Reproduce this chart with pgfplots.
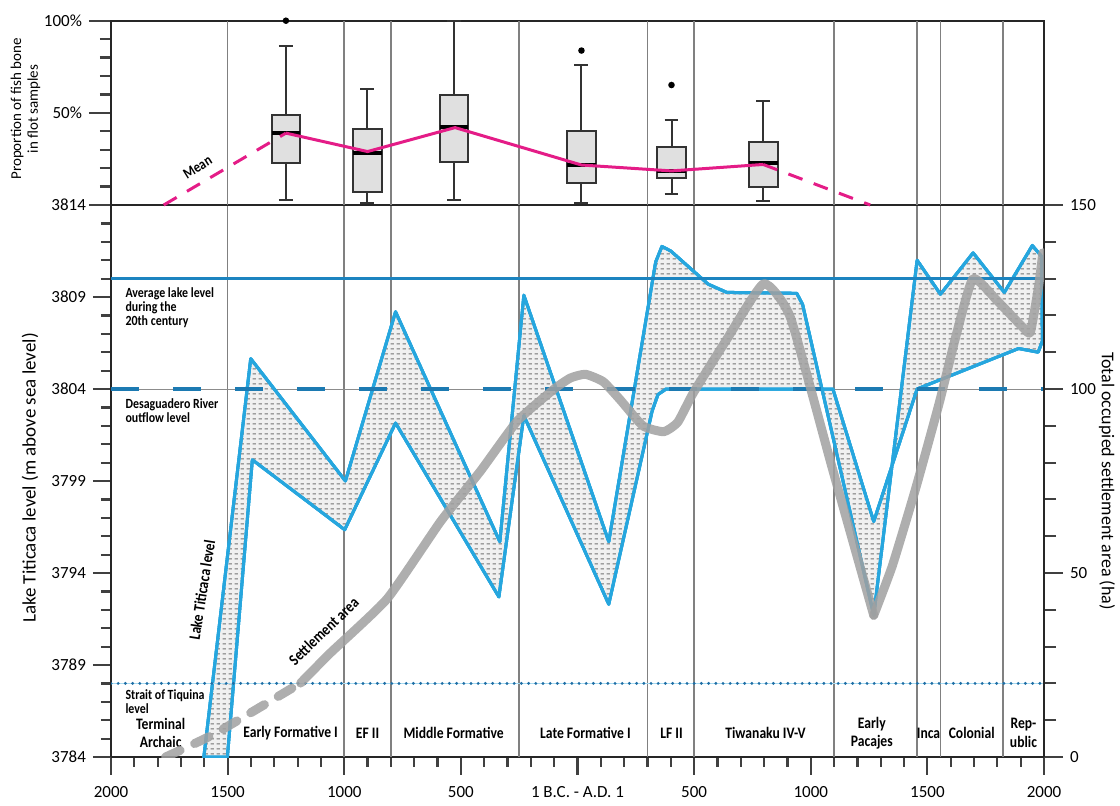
\documentclass[border=0pt]{standalone}
\usepackage{pgfplots}
\pgfplotsset{compat=1.18}
\usepgfplotslibrary{statistics}
\usetikzlibrary{patterns}
\usepackage{fontspec}
\setmainfont{Carlito}
\newfontfamily\cond{Carlito}[FakeStretch=0.85]
\definecolor{bandblue}{RGB}{38,166,222}
\definecolor{avgblue}{RGB}{28,132,192}
\definecolor{dashblue}{RGB}{28,122,178}
\definecolor{dotblue}{RGB}{30,110,165}
\definecolor{meanpink}{RGB}{228,28,135}
\definecolor{settle}{RGB}{160,160,160}
\pgfdeclarepatternformonly{hdash}{\pgfqpoint{0pt}{0pt}}{\pgfqpoint{3pt}{2.5pt}}{\pgfqpoint{3pt}{2.5pt}}{%
  \pgfsetlinewidth{0.6pt}%
  \pgfpathmoveto{\pgfqpoint{0.4pt}{1.25pt}}%
  \pgfpathlineto{\pgfqpoint{2.3pt}{1.25pt}}%
  \pgfusepath{stroke}%
}
\newcommand{\tickfont}{\fontsize{8.5}{9}\selectfont}
\newcommand{\perfont}{\cond\bfseries\fontsize{8}{9.3}\selectfont}
\newcommand{\annfont}{\cond\bfseries\fontsize{7}{6.9}\selectfont}

\pgfplotsset{
  periodgrid/.style={
    extra x ticks={-1500,-1000,-800,-250,300,500,1100,1455,1557,1825},
    extra x tick labels={},
    extra x tick style={grid=major, major grid style={black!50, line width=0.8pt}, tick style={draw=none}},
  },
  mybox/.style={draw=black!80, fill=black!12, line width=1pt, mark=*, mark size=1.1pt,
    mark options={fill=black, draw=black},
    boxplot/every median/.style={line width=2pt, draw=black}},
  settleline/.style={settle, opacity=0.85, line width=4.5pt, line cap=round, line join=round, smooth, tension=0.3},
}

\begin{document}
\begin{tikzpicture}
\path[use as bounding box] (0,0) rectangle (560pt,402.5pt);

% ---------------- lower panel: lake level ----------------
\begin{axis}[
  at={(55.5pt,24pt)}, anchor=south west, scale only axis,
  width=466.5pt, height=276pt,
  xmin=-2000, xmax=2000, ymin=3784, ymax=3814,
  axis x line*=bottom, axis y line*=left,
  axis line style={line width=1.2pt, black!85, -},
  tick align=outside,
  xtick={-2000,-1500,-1000,-500,0,500,1000,1500,2000},
  xticklabels={2000,1500,1000,500,{1 B.C. - A.D. 1},500,1000,1500,2000},
  minor x tick num=4,
  ytick={3784,3789,3794,3799,3804,3809,3814},
  yticklabels={3784,3789,3794,3799,3804,3809,3814},
  minor y tick num=4,
  major tick length=9pt, minor tick length=5pt,
  tick style={black!75, line width=1.1pt},
  ticklabel style={font=\tickfont},
  xticklabel style={yshift=-2pt},
  periodgrid,
]
\addplot[black!45, line width=0.5pt] coordinates {(-2000,3804) (2000,3804)};
\addplot[draw=bandblue, line width=1.5pt, line join=round,
  preaction={fill=black!6}, preaction={pattern=hdash, pattern color=black!55}]
  coordinates {
  (-1602,3784) (-1401,3805.65) (-995,3799.0) (-780,3808.2) (-333,3795.7) (-230,3809.1)
  (134,3795.7) (335,3810.9) (362,3811.75) (400,3811.5) (480,3810.6) (560,3809.7)
  (640,3809.25) (940,3809.2) (965,3808.6) (1270,3791.7) (1456,3811.0) (1556,3809.15)
  (1696,3811.4) (1830,3809.25) (1950,3811.8) (1990,3811.2) (1993,3806.6) (1975,3806.0)
  (1891,3806.2) (1456,3804.0) (1270,3796.8) (1095,3804.0) (380,3804.0) (345,3803.7)
  (320,3802.8) (134,3792.3) (-230,3802.55) (-337,3792.7) (-780,3802.15) (-998,3796.35)
  (-1394,3800.15) (-1501,3784)
  } --cycle;
\addplot[avgblue, line width=1.2pt] coordinates {(-2000,3810) (2000,3810)};
\addplot[dashblue, line width=1.8pt, dash pattern=on 14pt off 17pt] coordinates {(-2000,3804) (2000,3804)};
\addplot[bandblue!40, line width=0.6pt] coordinates {(-2000,3788) (2000,3788)};
\addplot[dotblue, line width=1.6pt, line cap=round, dash pattern=on 0pt off 3.6pt] coordinates {(-2000,3788) (2000,3788)};

\node[font=\annfont, anchor=north west, align=left] at (axis cs:-1968,3809.87) {Average lake level\\during the\\20th century};
\node[font=\annfont, anchor=north west, align=left] at (axis cs:-1968,3803.87) {Desaguadero River\\outflow level};
\node[font=\annfont, anchor=north west, align=left] at (axis cs:-1968,3788.03) {Strait of Tiquina\\level};
\node[font=\perfont, align=center] at (axis cs:-1787,3785.3) {Terminal\\Archaic};
\node[font=\perfont] at (axis cs:-1230,3785.3) {Early Formative I};
\node[font=\perfont] at (axis cs:-900,3785.3) {EF II};
\node[font=\perfont] at (axis cs:-531,3785.3) {Middle Formative};
\node[font=\perfont] at (axis cs:34,3785.3) {Late Formative I};
\node[font=\perfont] at (axis cs:403,3785.3) {LF II};
\node[font=\perfont] at (axis cs:806,3785.3) {Tiwanaku IV-V};
\node[font=\perfont, align=center] at (axis cs:1262,3785.3) {Early\\Pacajes};
\node[font=\perfont] at (axis cs:1505,3785.3) {Inca};
\node[font=\perfont] at (axis cs:1690,3785.3) {Colonial};
\node[font=\perfont, align=center] at (axis cs:1912,3785.3) {Rep-\\ublic};
\node[font=\perfont, rotate=81] at (axis cs:-1610,3793.08) {Lake Titicaca level};
\node[font=\perfont, rotate=44] at (axis cs:-1088,3790.85) {Settlement area};
\end{axis}

% ---------------- settlement area (right axis) ----------------
\begin{axis}[
  at={(55.5pt,24pt)}, anchor=south west, scale only axis,
  width=466.5pt, height=276pt,
  xmin=-2000, xmax=2000, ymin=0, ymax=150,
  axis x line=none, axis y line*=right,
  axis line style={line width=1.2pt, black!85, -},
  tick align=outside,
  ytick={0,50,100,150}, yticklabels={0,50,100,150},
  minor y tick num=4,
  major tick length=9.5pt, minor tick length=6pt,
  tick style={black!75, line width=1pt},
  ticklabel style={font=\tickfont},
]
\addplot[settleline, dash pattern=on 8pt off 8pt]
  coordinates {(-1766,0) (-1550,6.5) (-1187,20.1)};
\addplot[settleline]
  coordinates {
  (-1187,20.1) (-1059,28.3) (-816,43) (-587,64) (-416,77.7) (-258,91.3) (-100,100)
  (-30,103) (34,104) (110,102) (184,97) (280,90) (370,88.4) (430,91) (497,99)
  (641,113.6) (798,128.6) (913,119.4) (1090,79) (1270,38.5)
  };
\addplot[settleline]
  coordinates {
  (1270,38.5) (1350,52) (1450,73) (1550,96)
  (1625,115) (1696,130) (1799,124) (1913,116.5) (1942,115.5) (1977,128) (1995,137)
  };
\end{axis}

% ---------------- upper panel: fish bone ----------------
\begin{axis}[
  at={(55.5pt,300pt)}, anchor=south west, scale only axis,
  width=466.5pt, height=92.15pt,
  xmin=-2000, xmax=2000, ymin=0, ymax=100,
  clip=false,
  axis line style={line width=1.2pt, black!85},
  xtick=\empty,
  ytick={0,50,100}, yticklabels={,50\%,100\%},
  minor y tick num=4, ytick pos=left,
  tick align=outside, major tick length=11pt, minor tick length=5.5pt,
  tick style={black!75, line width=1.1pt},
  ticklabel style={font=\tickfont},
  periodgrid,
  boxplot/draw direction=y,
]
\addplot[mybox, boxplot prepared={draw position=-1250, lower whisker=2.9, lower quartile=23,
  median=38.9, upper quartile=49.1, upper whisker=86.3, box extend=123, whisker extend=60}]
  coordinates {(0,100)};
\addplot[mybox, boxplot prepared={draw position=-901, lower whisker=1.1, lower quartile=7.2,
  median=28.1, upper quartile=41.4, upper whisker=63, box extend=123, whisker extend=60}]
  coordinates {};
\addplot[mybox, boxplot prepared={draw position=-529, lower whisker=2.5, lower quartile=23.4,
  median=42.3, upper quartile=59.5, upper whisker=100, box extend=123, whisker extend=60}]
  coordinates {};
\addplot[mybox, boxplot prepared={draw position=17, lower whisker=1.1, lower quartile=12.2,
  median=21.7, upper quartile=39.9, upper whisker=75.9, box extend=123, whisker extend=60}]
  coordinates {(0,83.8)};
\addplot[mybox, boxplot prepared={draw position=403, lower whisker=5.9, lower quartile=14.4,
  median=18.2, upper quartile=31.5, upper whisker=45.9, box extend=123, whisker extend=60}]
  coordinates {(0,65.1)};
\addplot[mybox, boxplot prepared={draw position=796, lower whisker=2.2, lower quartile=9.9,
  median=22.7, upper quartile=34.2, upper whisker=56.7, box extend=123, whisker extend=60}]
  coordinates {};
\addplot[meanpink, line width=1.5pt, line join=round]
  coordinates {(-1250,39) (-900,29) (-525,42) (17,21.7) (403,18.5) (796,22)};
\addplot[meanpink, line width=1.5pt, dash pattern=on 7.5pt off 6pt]
  coordinates {(-1774,0) (-1250,39)};
\addplot[meanpink, line width=1.5pt, dash pattern=on 7.5pt off 6pt]
  coordinates {(796,22) (1255,0)};
\node[font=\cond\bfseries\fontsize{7.5}{8}\selectfont, rotate=32] at (axis cs:-1629,20.5) {Mean};
\end{axis}

% ---------------- outer labels ----------------
\node[rotate=90, font=\fontsize{9.5}{10}\selectfont] at (15pt,163.5pt) {Lake Titicaca level (m above sea level)};
\node[rotate=90, align=center, font=\fontsize{7.5}{8.5}\selectfont] at (12.75pt,348pt) {Proportion of fish bone\\in flot samples};
\node[rotate=-90, font=\fontsize{9}{10}\selectfont] at (553.5pt,162pt) {Total occupied settlement area (ha)};
\end{tikzpicture}
\end{document}
